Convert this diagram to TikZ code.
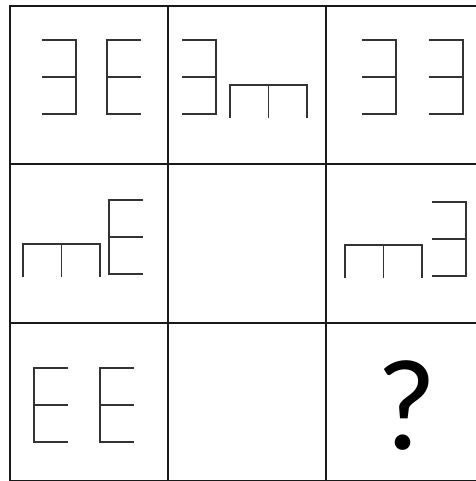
\documentclass[tikz,border=0pt]{standalone}
\usepackage{fontspec}
\newfontfamily\qfont{Carlito}
\usetikzlibrary{positioning}

\begin{document}
\begin{tikzpicture}[
    x=0.02cm, y=-0.02cm,
    gridline/.style={line width=1.5pt, black!90},
    glyph/.style={line width=1.1pt, black!80, line cap=butt, line join=miter},
    backE/.pic={\draw[glyph] (0,0) -- (34,0) -- (34,74) -- (0,74) (0,37) -- (34,37);},
    fwdE/.pic={\draw[glyph] (34,0) -- (0,0) -- (0,74) -- (34,74) (0,37) -- (34,37);},
    comb/.pic={\draw[glyph] (0,33) -- (0,0) -- (77,0) -- (77,33) (38.5,0) -- (38.5,33);},
    qmark/.style={font=\qfont\fontsize{74}{74}\selectfont, inner sep=0pt},
]
\useasboundingbox (0,0) rectangle (476,481);
\clip (0,0) rectangle (476,481);

% Grid
\draw[gridline] (10,6) rectangle (484,481);
\foreach \x in {168,326} \draw[gridline] (\x,6) -- (\x,481);
\foreach \y in {164,323} \draw[gridline] (10,\y) -- (484,\y);

% Row 1
\pic at (42,40) {backE};
\pic at (107,40) {fwdE};
\pic at (182,40) {backE};
\pic at (230,85) {comb};
\pic at (362,40) {backE};
\pic at (429,40) {backE};

% Row 2
\pic at (23,244) {comb};
\pic at (109,200) {fwdE};
\pic at (345,245) {comb};
\pic at (432,202) {backE};

% Row 3
\pic at (34,368) {fwdE};
\pic at (100,368) {fwdE};
\node[qmark] (question) at (407,406) {?};

\end{tikzpicture}
\end{document}
